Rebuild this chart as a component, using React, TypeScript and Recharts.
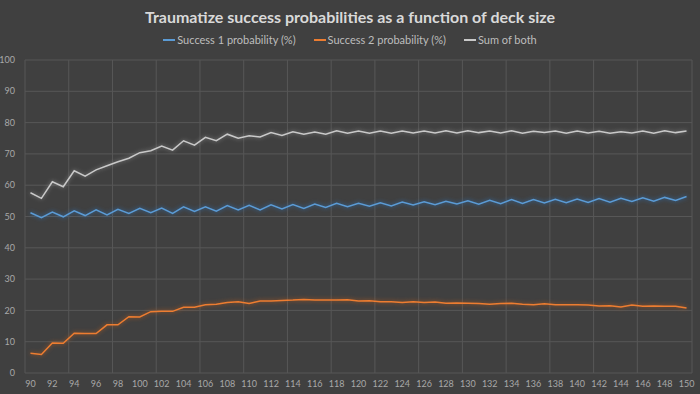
import React from 'react';
import { LineChart, Line, XAxis, YAxis, CartesianGrid, Legend } from 'recharts';

const deckSizes: number[] = Array.from({ length: 61 }, (_, i) => 90 + i);

const success1: number[] = [
  51.2, 49.6, 51.4, 49.9, 51.8, 50.3, 52.1, 50.5, 52.3, 51.0,
  52.6, 51.2, 52.7, 51.0, 53.1, 51.6, 53.1, 51.7, 53.5, 52.1,
  53.6, 52.1, 53.7, 52.4, 53.8, 52.6, 54.0, 52.9, 54.2, 53.1,
  54.2, 53.3, 54.4, 53.4, 54.6, 53.7, 54.7, 53.8, 54.9, 54.0,
  55.0, 53.9, 55.2, 54.1, 55.4, 54.2, 55.4, 54.3, 55.5, 54.4,
  55.6, 54.5, 55.7, 54.6, 55.8, 54.8, 56.0, 54.9, 56.1, 55.1,
  56.4,
];

const success2: number[] = [
  6.3, 5.9, 9.6, 9.5, 12.7, 12.6, 12.6, 15.4, 15.4, 18.0,
  17.9, 19.6, 19.7, 19.7, 21.0, 21.0, 21.8, 22.0, 22.5, 22.8,
  22.2, 23.0, 23.0, 23.2, 23.3, 23.5, 23.3, 23.3, 23.3, 23.4,
  23.0, 23.1, 22.8, 22.8, 22.5, 22.8, 22.5, 22.7, 22.3, 22.4,
  22.3, 22.2, 22.0, 22.2, 22.3, 22.0, 21.8, 22.1, 21.8, 21.8,
  21.8, 21.7, 21.4, 21.5, 21.1, 21.7, 21.3, 21.4, 21.3, 21.3,
  20.8,
];

const sumBoth: number[] = [
  57.6, 55.8, 61.1, 59.5, 64.6, 62.9, 64.9, 66.2, 67.5, 68.6,
  70.4, 71.0, 72.5, 71.2, 74.2, 72.8, 75.3, 74.2, 76.3, 75.0,
  75.8, 75.4, 76.8, 75.9, 77.1, 76.3, 77.0, 76.3, 77.4, 76.6,
  77.3, 76.6, 77.3, 76.6, 77.3, 76.7, 77.3, 76.7, 77.4, 76.7,
  77.4, 76.8, 77.3, 76.7, 77.4, 76.6, 77.2, 76.8, 77.3, 76.6,
  77.3, 76.7, 77.2, 76.6, 77.1, 76.7, 77.3, 76.6, 77.4, 76.8,
  77.3,
];

const xTicks: number[] = deckSizes;
const gridXTicks: number[] = [...deckSizes.map((d) => d - 0.5), 150.5];
const yTicks: number[] = [0, 10, 20, 30, 40, 50, 60, 70, 80, 90, 100];

const seriesNames = {
  s1: 'Success 1 probability (%)',
  s2: 'Success 2 probability (%)',
  sum: 'Sum of both',
};

const data = deckSizes.map((d, i) => ({
  deck: d,
  s1: success1[i],
  s2: success2[i],
  sum: sumBoth[i],
}));

const FONT = 'Lato, "Open Sans", sans-serif';
const BG = '#404040';

const LegendContent = (props: any) => {
  const payload = props.payload || [];
  return (
    <div style={{ display: 'flex', justifyContent: 'center', gap: 18, fontFamily: FONT, fontSize: 11, color: '#bdbdbd' }}>
      {payload.map((p: any) => (
        <div key={p.value} style={{ display: 'flex', alignItems: 'center' }}>
          <span style={{ display: 'inline-block', width: 12, height: 2, background: p.color, marginRight: 2 }} />
          <span>{p.value}</span>
        </div>
      ))}
    </div>
  );
};

export default function App() {
  return (
    <div style={{ position: 'absolute', left: 0, top: 0, width: 700, height: 394, background: BG, overflow: 'hidden' }}>
      <div style={{ position: 'absolute', left: 0, top: 7, width: 700, textAlign: 'center', fontFamily: FONT, fontWeight: 700, fontSize: 16, color: '#d9d9d9' }}>
        Traumatize success probabilities as a function of deck size
      </div>
      <LineChart width={700} height={394} data={data} margin={{ top: 60, right: 8, bottom: 0, left: 0 }}>
        <XAxis xAxisId="grid" dataKey="deck" type="number" domain={[89.5, 150.5]} ticks={gridXTicks} hide />
        <CartesianGrid xAxisId="grid" stroke="#575757" strokeWidth={1} />
        <XAxis
          dataKey="deck"
          type="number"
          domain={[89.5, 150.5]}
          ticks={xTicks}
          interval={0}
          tickFormatter={(v: number) => (v % 2 === 0 ? String(v) : '')}
          tick={{ fill: '#a8a8a8', fontSize: 9, fontFamily: FONT }}
          axisLine={false}
          tickLine={false}
          height={21}
          tickMargin={2}
        />
        <YAxis
          domain={[0, 100]}
          ticks={yTicks}
          interval={0}
          tick={{ fill: '#a8a8a8', fontSize: 9, fontFamily: FONT }}
          axisLine={false}
          tickLine={false}
          width={25}
          tickMargin={4}
        />
        <Legend verticalAlign="middle" layout="horizontal" wrapperStyle={{ top: 33, left: 0, width: 700 }} content={<LegendContent />} />
        <Line dataKey="s1" name={seriesNames.s1} stroke="#5b9bd5" strokeWidth={1.5} dot={false} isAnimationActive={false} style={{ filter: 'drop-shadow(0 0 2px #2f6fb0)' }} />
        <Line dataKey="s2" name={seriesNames.s2} stroke="#ed7d31" strokeWidth={1.5} dot={false} isAnimationActive={false} style={{ filter: 'drop-shadow(0 0 2px #b05a20)' }} />
        <Line dataKey="sum" name={seriesNames.sum} stroke="#c9c9c9" strokeWidth={1.5} dot={false} isAnimationActive={false} style={{ filter: 'drop-shadow(0 0 2px #888888)' }} />
      </LineChart>
    </div>
  );
}
